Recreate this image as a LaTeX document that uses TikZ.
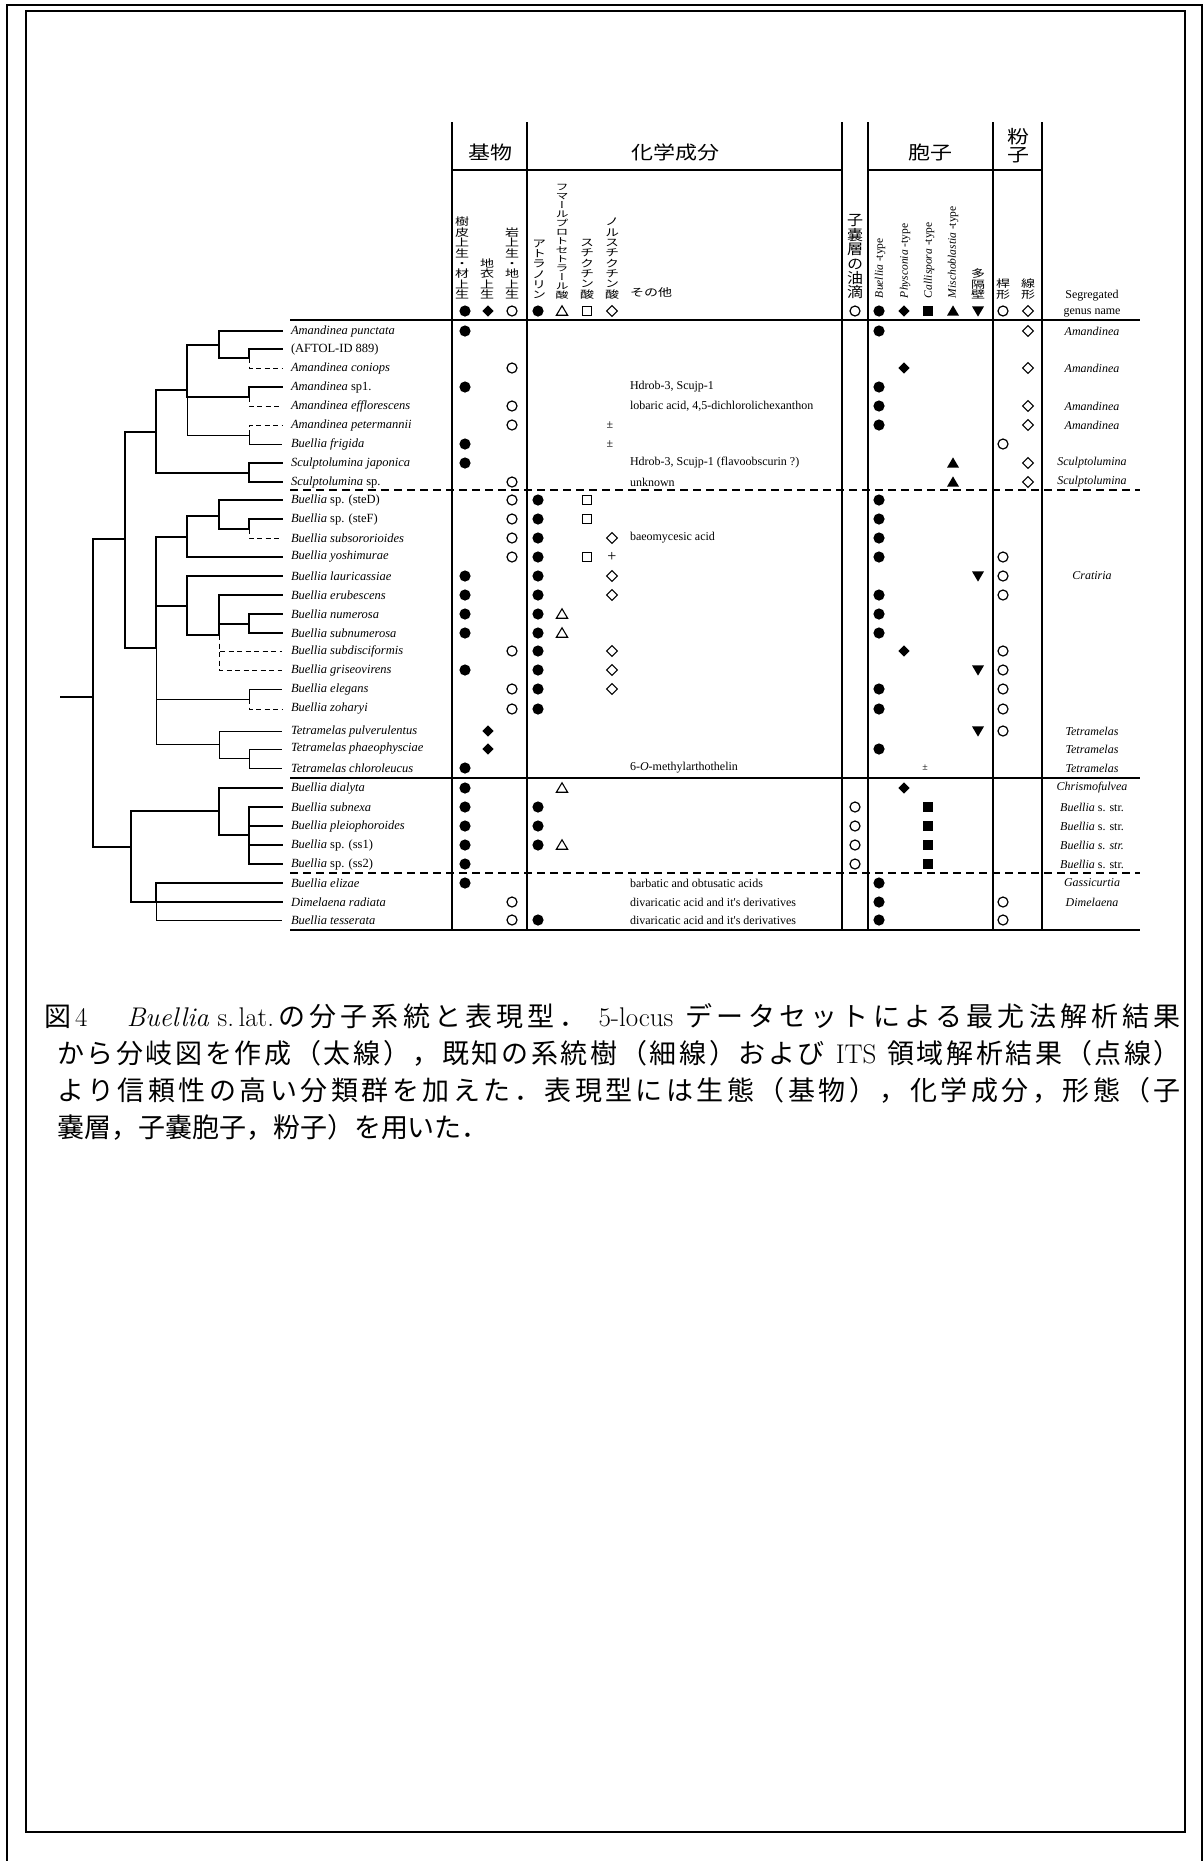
\documentclass[tikz,border=0pt]{standalone}
\usepackage{fontspec}
\usepackage{graphicx}
\newfontfamily\jp{Noto Sans CJK JP}
\newfontfamily\jpv[RawFeature=+vert]{Noto Sans CJK JP}
\newfontfamily\tms{Liberation Serif}
\newcommand\nmfont{\tms\fontsize{12.5}{14}\selectfont}
\newcommand\chfont{\tms\fontsize{12}{14}\selectfont}
\makeatletter
% vertical stack of characters
\def\vs@endmark{\vs@end}
\def\vsrows#1{\vs@a#1\vs@end}
\def\vs@a#1{\def\vs@tmp{#1}\ifx\vs@tmp\vs@endmark\expandafter\@gobble\else\expandafter\@firstofone\fi{\hbox to 2em{\hfil#1\hfil}\vs@a}}
\newcommand\vstack[3]{\scalebox{1}[#2]{\vbox{\fontsize{#1}{#1}\selectfont\baselineskip=#1pt\lineskiplimit=-100pt\vsrows{#3}}}}
% spread characters of a line over a given width
\def\spr@endmark{\spr@end}
\def\spreadit#1{\spr@a#1\spr@end}
\def\spr@a#1{\def\spr@tmp{#1}\ifx\spr@tmp\spr@endmark\expandafter\@gobble\else\expandafter\@firstofone\fi{{#1}\hskip 0pt plus 1fil\spr@a}}
\makeatother
\newcommand\justline[2]{\hbox to #1pt{\spreadit{#2}\unskip}}
\tikzset{
  frm/.style={line width=2pt},
  rul/.style={line width=2.6pt},
  drul/.style={line width=2.2pt, dash pattern=on 8pt off 5pt},
  tk/.style={line width=2.6pt, line cap=rect},
  tn/.style={line width=1pt},
  td/.style={line width=1pt, dash pattern=on 5pt off 3.5pt},
  spname/.style={anchor=west, font=\nmfont},
  chem/.style={anchor=west, font=\chfont},
  genus/.style={font=\chfont},
  vhead/.style={anchor=south, font=\jpv},
  rhead/.style={anchor=west, rotate=90, font=\tms\fontsize{11.5}{13}\selectfont},
  hdtitle/.style={font=\jp\fontsize{22}{22}\selectfont},
  captext/.style={anchor=base west, font=\jp\fontsize{27}{37}\selectfont},
}
\begin{document}
\begin{tikzpicture}[x=1pt,y=-1pt, every node/.style={inner sep=0pt, outer sep=0pt}]
\useasboundingbox (0,0) rectangle (1203,1861);
\fill[white] (0,0) rectangle (1203,1861);
% frames
\draw[frm] (7,1870) -- (7,5) -- (1202,5) -- (1202,1870);
\draw[frm] (26,11) rectangle (1185,1832);

% ---------- table rules ----------
\foreach \x in {452,527,842,868,993,1042} \draw[rul] (\x,122) -- (\x,930);
\draw[rul] (452,170) -- (842,170);
\draw[rul] (868,170) -- (1042,170);
\draw[rul] (290,320) -- (1140,320);
\draw[drul] (290,490) -- (1140,490);
\draw[rul] (290,778) -- (1140,778);
\draw[drul] (290,873) -- (1140,873);
\draw[rul] (290,930) -- (1140,930);

% ---------- header ----------
\node[hdtitle] (hkibutsu) at (490,152) {\scalebox{1}[0.84]{基物}};
\node[hdtitle] (hkagaku) at (675,152) {\scalebox{1}[0.84]{化学成分}};
\node[hdtitle] (hhoshi) at (930,152) {\scalebox{1}[0.84]{胞子}};
\node[font=\jp] (hfunshi) at (1018,146) {\vstack{22}{0.82}{粉子}};

\node[vhead] (v1) at (462,299) {\vstack{14}{0.74}{樹皮上生・材上生}};
\node[vhead] (v2) at (487,299) {\vstack{14}{0.74}{地衣上生}};
\node[vhead] (v3) at (512,299) {\vstack{14}{0.74}{岩上生・地上生}};
\node[vhead] (v4) at (539,299) {\vstack{14}{0.74}{アトラノリン}};
\node[vhead] (v5) at (562,299) {\vstack{13}{0.69}{フマールプロトセトラール酸}};
\node[vhead] (v6) at (587,299) {\vstack{14}{0.74}{スチクチン酸}};
\node[vhead] (v7) at (612,299) {\vstack{14}{0.74}{ノルスチクチン酸}};
\node[anchor=west, font=\jp\fontsize{14}{14}\selectfont] (vother) at (630,292) {\scalebox{1}[0.76]{その他}};
\node[vhead] (v8) at (855,299) {\vstack{16}{0.9}{子嚢層の油滴}};
\node[rhead] (r9) at (880,298) {\itshape Buellia\upshape\ -type};
\node[rhead] (r10) at (905,298) {\itshape Physconia\upshape\ -type};
\node[rhead] (r11) at (929,298) {\itshape Callispora\upshape\ -type};
\node[rhead] (r12) at (953,298) {\itshape Mischoblastia\upshape\ -type};
\node[vhead] (v13) at (978,299) {\vstack{14}{0.75}{多隔壁}};
\node[vhead] (v14) at (1003,299) {\vstack{14}{0.74}{桿形}};
\node[vhead] (v15) at (1028,299) {\vstack{14}{0.74}{線形}};
\node[genus] (seg1) at (1092,296) {Segregated};
\node[genus] (seg2) at (1092,313) {genus name};

% ---------- symbols ----------
% filled circles
\foreach \x/\y in {465/311,538/311,879/311,
  465/331,465/387,465/444,465/463,465/576,465/595,465/614,465/633,465/670,465/768,465/788,465/807,465/826,465/845,465/864,465/883,
  538/500,538/519,538/538,538/557,538/576,538/595,538/614,538/633,538/651,538/670,538/689,538/709,538/807,538/826,538/845,538/920,
  879/331,879/387,879/406,879/425,879/500,879/519,879/538,879/557,879/595,879/614,879/633,879/689,879/709,879/749,879/883,879/902,879/920}
  \fill (\x,\y) circle (5.6pt);
% open circles
\foreach \x/\y in {512/311,855/311,1003/311,
  512/368,512/406,512/425,512/482,512/500,512/519,512/538,512/557,512/651,512/689,512/709,512/902,512/920,
  855/807,855/826,855/845,855/864,
  1003/444,1003/557,1003/576,1003/595,1003/651,1003/670,1003/689,1003/709,1003/731,1003/902,1003/920}
  \draw[line width=1.2pt] (\x,\y) circle (5pt);
% filled diamonds
\foreach \x/\y in {488/311,904/311,488/731,488/749,904/368,904/651,904/788}
  \fill ([shift={(0pt,5.6pt)}]\x,\y) -- ([shift={(5.6pt,0pt)}]\x,\y) -- ([shift={(0pt,-5.6pt)}]\x,\y) -- ([shift={(-5.6pt,0pt)}]\x,\y) -- cycle;
% open diamonds
\foreach \x/\y in {612/311,1028/311,612/538,612/576,612/595,612/651,612/670,612/689,
  1028/331,1028/368,1028/406,1028/425,1028/463,1028/482}
  \draw[line width=1.1pt] ([shift={(0pt,5.3pt)}]\x,\y) -- ([shift={(5.3pt,0pt)}]\x,\y) -- ([shift={(0pt,-5.3pt)}]\x,\y) -- ([shift={(-5.3pt,0pt)}]\x,\y) -- cycle;
% open triangles
\foreach \x/\y in {562/311,562/614,562/633,562/788,562/845}
  \draw[line width=1.1pt] ([shift={(-5.6pt,-4.2pt)}]\x,\y) -- ([shift={(5.6pt,-4.2pt)}]\x,\y) -- ([shift={(0pt,5.2pt)}]\x,\y) -- cycle;
% open squares
\foreach \x/\y in {587/311,587/500,587/519,587/557}
  \draw[line width=1.1pt] ([shift={(-4.7pt,-4.7pt)}]\x,\y) rectangle ([shift={(4.7pt,4.7pt)}]\x,\y);
% filled squares
\foreach \x/\y in {928/311,928/807,928/826,928/845,928/864}
  \fill ([shift={(-5.2pt,-5.2pt)}]\x,\y) rectangle ([shift={(5.2pt,5.2pt)}]\x,\y);
% filled triangles
\foreach \x/\y in {953/311,953/463,953/482}
  \fill ([shift={(-6pt,-4.6pt)}]\x,\y) -- ([shift={(6pt,-4.6pt)}]\x,\y) -- ([shift={(0pt,5.6pt)}]\x,\y) -- cycle;
% filled inverted triangles
\foreach \x/\y in {978/311,978/576,978/670,978/731}
  \fill ([shift={(-6pt,4.6pt)}]\x,\y) -- ([shift={(6pt,4.6pt)}]\x,\y) -- ([shift={(0pt,-5.6pt)}]\x,\y) -- cycle;
\node[font=\tms\fontsize{12}{12}\selectfont] (pm1) at (610,425) {±};
\node[font=\tms\fontsize{12}{12}\selectfont] (pm2) at (610,444) {±};
\node[font=\tms\fontsize{10}{10}\selectfont] (pm3) at (925,768) {±};
\node[font=\tms\fontsize{16}{16}\selectfont] (plus1) at (612,557) {+};

% ---------- other chemistry ----------
\node[chem] (o4) at (630,387) {Hdrob-3, Scujp-1};
\node[chem] (o5) at (630,406) {lobaric acid, 4,5-dichlorolichexanthon};
\node[chem] (o8) at (630,463) {Hdrob-3, Scujp-1 (flavoobscurin ?)};
\node[chem] (o9) at (630,482) {unknown};
\node[chem] (o12) at (630,538) {baeomycesic acid};
\node[chem] (o24) at (630,768) {6-\textit{O}-methylarthothelin};
\node[chem] (o30) at (630,883) {barbatic and obtusatic acids};
\node[chem] (o31) at (630,902) {divaricatic acid and it's derivatives};
\node[chem] (o32) at (630,920) {divaricatic acid and it's derivatives};

% ---------- segregated genus ----------
\foreach \i/\y/\t in {1/331/Amandinea,3/368/Amandinea,5/406/Amandinea,6/425/Amandinea,
  8/463/Sculptolumina,9/482/Sculptolumina,14/576/Cratiria,22/731/Tetramelas,23/749/Tetramelas,
  24/768/Tetramelas,25/788/Chrismofulvea,30/883/Gassicurtia,31/902/Dimelaena}
  \node[genus] (g\i) at (1092,\y) {\textit{\t}};
\node[genus] (g26) at (1092,807) {\textit{Buellia} s. str.};
\node[genus] (g27) at (1092,826) {\textit{Buellia} s. str.};
\node[genus] (g28) at (1092,845) {\textit{Buellia s. str.}};
\node[genus] (g29) at (1092,864) {\textit{Buellia} s. str.};

% ---------- species names and leaves ----------
\foreach \i/\y/\t in {
  1/331/{\textit{Amandinea punctata}},
  2/349/{(AFTOL-ID 889)},
  3/368/{\textit{Amandinea coniops}},
  4/387/{\textit{Amandinea} sp1.},
  5/406/{\textit{Amandinea efflorescens}},
  6/425/{\textit{Amandinea petermannii}},
  7/444/{\textit{Buellia frigida}},
  8/463/{\textit{Sculptolumina japonica}},
  9/482/{\textit{Sculptolumina} sp.},
  10/500/{\textit{Buellia} sp. (steD)},
  11/519/{\textit{Buellia} sp. (steF)},
  12/538/{\textit{Buellia subsororioides}},
  13/557/{\textit{Buellia yoshimurae}},
  14/576/{\textit{Buellia lauricassiae}},
  15/595/{\textit{Buellia erubescens}},
  16/614/{\textit{Buellia numerosa}},
  17/633/{\textit{Buellia subnumerosa}},
  18/651/{\textit{Buellia subdisciformis}},
  19/670/{\textit{Buellia griseovirens}},
  20/689/{\textit{Buellia elegans}},
  21/709/{\textit{Buellia zoharyi}},
  22/731/{\textit{Tetramelas pulverulentus}},
  23/749/{\textit{Tetramelas phaeophysciae}},
  24/768/{\textit{Tetramelas chloroleucus}},
  25/788/{\textit{Buellia dialyta}},
  26/807/{\textit{Buellia subnexa}},
  27/826/{\textit{Buellia pleiophoroides}},
  28/845/{\textit{Buellia} sp. (ss1)},
  29/864/{\textit{Buellia} sp. (ss2)},
  30/883/{\textit{Buellia elizae}},
  31/902/{\textit{Dimelaena radiata}},
  32/920/{\textit{Buellia tesserata}}}{
  \coordinate (l\i) at (282,\y);
  \node[spname] (t\i) at (291,\y) {\t};
}

% ---------- tree internal nodes ----------
\coordinate (nE1) at (249,358);
\coordinate (nA1) at (219,345);
\coordinate (nB) at (249,397);
\coordinate (nC) at (249,435);
\coordinate (nA2) at (187,390);
\coordinate (nS) at (249,473);
\coordinate (nA3) at (156,432);
\coordinate (nE2) at (249,529);
\coordinate (nD) at (219,516);
\coordinate (nF) at (187,537);
\coordinate (nI) at (249,624);
\coordinate (nH) at (219,635);
\coordinate (nG) at (187,606);
\coordinate (nL) at (249,699);
\coordinate (nN) at (249,758);
\coordinate (nM) at (219,744);
\coordinate (nJ) at (156,648);
\coordinate (nK) at (125,539);
\coordinate (nP) at (249,835);
\coordinate (nO) at (219,811);
\coordinate (nT) at (156,902);
\coordinate (nQ) at (131,847);
\coordinate (nR) at (93,697);
\coordinate (root) at (61,697);

% thin and dashed first, thick on top
\draw[tn] (nA2) |- (nC);
\draw[tn] (nC) |- (l7);
\draw[tn] (nJ) |- (nL);
\draw[tn] (nJ) |- (nM);
\draw[tn] (nL) |- (l20);
\draw[tn] (nM) |- (l22);
\draw[tn] (nM) |- (nN);
\draw[tn] (nN) |- (l23);
\draw[tn] (nN) |- (l24);
\draw[tn] (nT) |- (l32);
\draw[td] (nE1) |- (l3);
\draw[td] (nB) |- (l5);
\draw[td] (nC) |- (l6);
\draw[td] (nE2) |- (l12);
\draw[td] (nH) |- (l18);
\draw[td] (nH) |- (l19);
\draw[td] (nL) |- (l21);

\draw[tk] (root) -- (nR);
\draw[tk] (nR) |- (nK);
\draw[tk] (nR) |- (nQ);
\draw[tk] (nK) |- (nA3);
\draw[tk] (nK) |- (nJ);
\draw[tk] (nA3) |- (nA2);
\draw[tk] (nA3) |- (nS);
\draw[tk] (nA2) |- (nA1);
\draw[tk] (nA2) |- (nB);
\draw[tk] (nA1) |- (l1);
\draw[tk] (nA1) |- (nE1);
\draw[tk] (nE1) |- (l2);
\draw[tk] (nB) |- (l4);
\draw[tk] (nS) |- (l8);
\draw[tk] (nS) |- (l9);
\draw[tk] (nJ) |- (nF);
\draw[tk] (nJ) |- (nG);
\draw[tk] (nF) |- (nD);
\draw[tk] (nF) |- (l13);
\draw[tk] (nD) |- (l10);
\draw[tk] (nD) |- (nE2);
\draw[tk] (nE2) |- (l11);
\draw[tk] (nG) |- (l14);
\draw[tk] (nG) |- (nH);
\draw[tk] (nH) |- (l15);
\draw[tk] (nH) |- (nI);
\draw[tk] (nI) |- (l16);
\draw[tk] (nI) |- (l17);
\draw[tk] (nQ) |- (nO);
\draw[tk] (nQ) |- (nT);
\draw[tk] (nO) |- (l25);
\draw[tk] (nO) |- (nP);
\draw[tk] (nP) |- (l26);
\draw[tk] (nP) |- (l27);
\draw[tk] (nP) |- (l28);
\draw[tk] (nP) |- (l29);
\draw[tk] (nT) |- (l30);
\draw[tk] (nT) |- (l31);

% ---------- caption ----------
\node[captext] (cap1) at (44,1026) {\justline{1137}{図{\rmfamily 4\hspace{1.3em}}{\rmfamily\itshape Buellia}{\rmfamily\,s.\,lat.}の分子系統と表現型．{\rmfamily\ 5-locus\ }データセットによる最尤法解析結果}};
\node[captext] (cap2) at (57,1063) {\justline{1124}{から分岐図を作成（太線），既知の系統樹（細線）および{\rmfamily\ ITS\ }領域解析結果（点線）}};
\node[captext] (cap3) at (57,1100) {\justline{1124}{より信頼性の高い分類群を加えた．表現型には生態（基物），化学成分，形態（子}};
\node[captext] (cap4) at (57,1137) {嚢層，子嚢胞子，粉子）を用いた．};
\end{tikzpicture}
\end{document}
